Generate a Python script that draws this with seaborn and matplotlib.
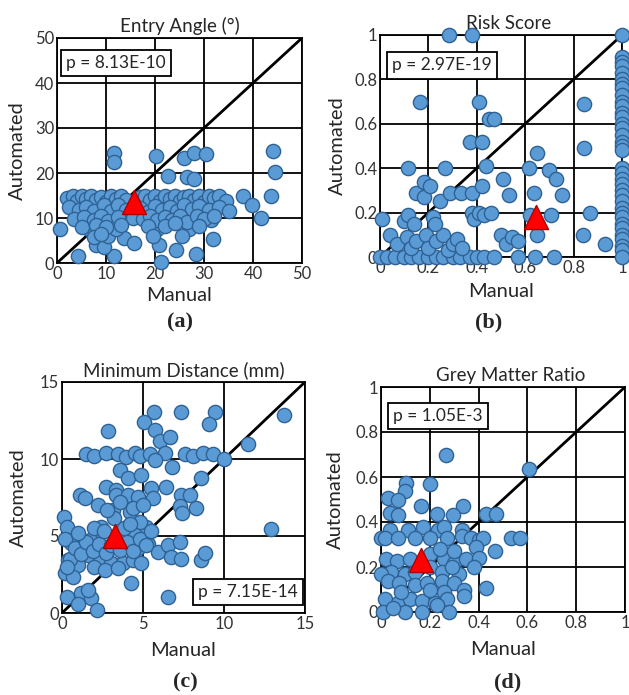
import numpy as np
import matplotlib
matplotlib.use("Agg")
import matplotlib.pyplot as plt
import seaborn as sns

# --- (a) Entry Angle ---
a_manual = [11.7, 11.6, 20.2, 26.0, 27.9, 30.4, 44.0, 44.4, 43.7, 22.6, 26.5, 27.9, 37.9, 39.7, 41.6,
            0.7, 4.2, 11.6, 21.2, 20.9, 24.3, 28.4, 31.8, 13.7, 15.8, 8.0, 9.5, 10.5, 6.5, 12.0, 20.5, 27.0, 31.5,
            2.0, 3.2, 4.0, 5.0, 6.0, 7.0, 8.0, 9.0, 10.0, 11.0, 12.0, 13.0, 14.0, 17.0, 18.0, 19.0, 20.0, 21.0,
            22.0, 23.0, 24.0, 25.0, 26.0, 27.0, 28.0, 29.0, 30.0, 31.0, 32.0, 33.0, 34.5,
            2.5, 4.5, 6.0, 7.5, 9.5, 11.0, 12.5, 14.0, 17.0, 18.5, 20.0, 21.5, 23.0, 24.5, 26.0, 27.5, 29.0,
            31.0, 33.0, 35.0,
            3.5, 5.5, 7.5, 9.0, 10.5, 12.5, 15.5, 17.5, 19.0, 20.5, 22.0, 23.5, 25.0, 26.5, 28.5, 30.0, 32.0,
            5.0, 8.0, 10.0, 13.0, 18.5, 22.0, 24.0, 29.0, 7.5, 9.0, 19.5, 25.5]
a_auto = [24.5, 22.5, 23.8, 23.3, 24.5, 24.2, 25.0, 20.3, 14.9, 19.3, 19.2, 18.6, 14.9, 12.9, 10.1,
          7.5, 1.6, 1.6, 0.3, 4.0, 3.0, 2.1, 5.3, 5.5, 4.4, 4.0, 3.5, 6.0, 7.5, 7.5, 7.5, 7.5, 9.5,
          14.5, 14.9, 13.8, 14.8, 14.2, 15.0, 14.0, 14.7, 13.5, 14.9, 14.3, 15.0, 13.9, 14.6, 15.0, 14.0, 14.8, 13.7,
          14.9, 14.2, 15.0, 13.8, 14.7, 15.0, 14.0, 14.8, 13.6, 14.9, 14.5, 15.0, 13.8,
          12.5, 11.8, 12.5, 11.5, 12.8, 11.5, 12.8, 11.8, 12.3, 11.3, 12.6, 11.8, 12.5, 11.5, 12.8, 12.0, 12.6,
          11.7, 12.5, 11.5,
          9.8, 10.2, 9.5, 10.5, 9.3, 10.3, 10.0, 9.8, 10.5, 9.5, 10.2, 9.6, 10.4, 9.2, 10.5, 9.7, 10.4,
          8.0, 8.5, 8.0, 8.5, 8.3, 8.2, 8.8, 8.2, 5.8, 6.5, 6.0, 6.0]
a_mean = (15.8, 13.6)

# --- (b) Risk Score ---
b_col = [1.0, 0.9, 0.88, 0.86, 0.83, 0.8, 0.78, 0.76, 0.73, 0.7, 0.68, 0.65, 0.63, 0.6, 0.58, 0.55, 0.52,
         0.5, 0.48, 0.4, 0.38, 0.35, 0.33, 0.3, 0.28, 0.25, 0.22, 0.2, 0.18, 0.15, 0.13, 0.1, 0.08, 0.05, 0.03, 0.0]
b_manual = [1.0] * len(b_col) + [
    0.0, 0.03, 0.06, 0.1, 0.13, 0.16, 0.2, 0.23, 0.26, 0.3, 0.33, 0.37, 0.4, 0.43, 0.47, 0.57, 0.64, 0.72,
    0.04, 0.07, 0.11, 0.13, 0.15, 0.19, 0.2, 0.23, 0.26, 0.28, 0.3, 0.32, 0.34, 0.5, 0.52, 0.545, 0.57, 0.647, 0.84, 0.93,
    0.007, 0.1, 0.117, 0.14, 0.22, 0.227, 0.38, 0.39, 0.41, 0.43, 0.46, 0.706, 0.868, 0.62,
    0.15, 0.18, 0.18, 0.206, 0.248, 0.29, 0.335, 0.38, 0.423, 0.533, 0.638, 0.753, 0.51, 0.117, 0.27, 0.44,
    0.615, 0.7, 0.727, 0.647, 0.37, 0.42, 0.45, 0.47, 0.165, 0.41, 0.845, 0.845, 0.285, 0.38]
b_auto = b_col + [
    0.0, 0.0, 0.0, 0.0, 0.0, 0.0, 0.0, 0.0, 0.0, 0.0, 0.0, 0.0, 0.0, 0.0, 0.0, 0.0, 0.0, 0.0,
    0.1, 0.06, 0.09, 0.04, 0.07, 0.1, 0.04, 0.07, 0.1, 0.03, 0.06, 0.08, 0.04, 0.1, 0.06, 0.09, 0.07, 0.1, 0.1, 0.06,
    0.17, 0.16, 0.19, 0.15, 0.18, 0.15, 0.2, 0.17, 0.2, 0.19, 0.2, 0.19, 0.2, 0.19,
    0.29, 0.27, 0.34, 0.32, 0.25, 0.29, 0.29, 0.29, 0.32, 0.28, 0.29, 0.28, 0.35, 0.4, 0.4, 0.41,
    0.4, 0.39, 0.35, 0.47, 0.52, 0.52, 0.62, 0.62, 0.7, 0.7, 0.69, 0.49, 1.0, 1.0]
b_mean = (0.645, 0.18)

# --- (c) Minimum Distance ---
c_manual = [5.68, 7.37, 9.47, 13.7, 9.1, 5.06, 5.72, 2.84, 6.03, 6.65, 11.48,
            1.5, 2.0, 2.74, 3.46, 3.97, 4.49, 4.79, 5.41, 6.34, 7.57, 8.09, 8.7, 9.3, 9.98,
            6.79, 3.56, 5.72, 8.6, 4.1, 4.9, 2.74, 3.35, 5.5, 6.44, 1.09, 1.4, 2.2, 3.35, 4.07, 4.7, 5.6,
            7.37, 7.88, 7.26, 8.3, 7.4, 3.15, 4.18, 0.12, 0.33, 5.2, 4.8, 2.43, 12.88,
            2.2, 3.87, 4.49, 0.58, 1.19, 1.7, 4.69, 5.3, 5.93, 6.54, 7.26, 6.75, 7.37, 8.6, 8.8,
            0.37, 0.99, 1.6, 2.33, 3.05, 3.77, 4.38, 4.9, 0.16, 0.68, 2.0, 2.63, 3.46, 4.28, 6.54,
            0.33, 1.19, 1.81, 2.18, 0.99, 1.6,
            0.2, 0.5, 0.8, 1.2, 1.5, 1.9, 2.3, 2.7, 3.0, 3.6, 4.0, 4.4, 4.8, 5.2, 2.0, 2.6, 3.8, 4.2, 5.5,
            1.0, 0.3, 3.2, 2.8, 3.6, 4.4, 5.0]
c_auto = [13.07, 13.03, 13.07, 12.86, 12.25, 12.4, 11.9, 11.8, 11.2, 11.45, 10.95,
          10.3, 10.2, 10.4, 10.3, 10.1, 10.4, 10.2, 10.3, 10.4, 10.3, 10.2, 10.4, 10.3, 10.0,
          9.46, 9.28, 9.93, 8.74, 8.74, 8.96, 8.2, 8.0, 8.1, 8.16, 7.66, 7.45, 7.0, 7.66, 7.66, 7.55, 7.45,
          7.66, 7.66, 6.95, 6.8, 6.47, 6.7, 6.58, 6.26, 5.6, 5.6, 5.9, 5.6, 5.43,
          5.07, 5.17, 5.07, 4.52, 4.3, 4.74, 4.2, 4.5, 3.98, 4.41, 4.63, 3.66, 3.48, 3.44, 3.87,
          3.44, 3.12, 3.77, 3.33, 3.23, 3.27, 3.44, 3.23, 2.58, 2.36, 3.0, 2.8, 2.9, 1.93, 1.02,
          1.06, 1.28, 0.95, 0.2, 0.58, 1.5,
          4.8, 3.5, 4.2, 3.8, 4.6, 4.0, 4.5, 3.9, 4.4, 4.1, 4.6, 4.0, 4.8, 4.4, 5.5, 5.3, 5.5, 5.8, 5.3,
          5.2, 3.0, 6.2, 6.7, 7.2, 6.8, 7.0]
c_mean = (3.25, 5.0)

# --- (d) Grey Matter Ratio ---
d_manual = [0.268, 0.605, 0.104, 0.098, 0.2, 0.029, 0.07, 0.165, 0.23, 0.336, 0.43, 0.47, 0.035, 0.07, 0.295,
            0.035, 0.11, 0.172, 0.234, 0.33, 0.26, 0.534, 0.568,
            0.0, 0.015, 0.07, 0.138, 0.2, 0.27, 0.33, 0.37, 0.4, 0.42, 0.39,
            0.466, 0.02, 0.065, 0.118, 0.26, 0.3, 0.35, 0.4, 0.38, 0.2, 0.24, 0.3,
            0.04, 0.1, 0.14, 0.2, 0.25, 0.32, 0.29, 0.0,
            0.03, 0.075, 0.14, 0.19, 0.25, 0.3, 0.34, 0.34, 0.43, 0.26,
            0.015, 0.07, 0.12, 0.17, 0.22, 0.27, 0.2, 0.08,
            0.01, 0.1, 0.17, 0.28, 0.23, 0.05]
d_auto = [0.70, 0.635, 0.575, 0.54, 0.57, 0.505, 0.5, 0.47, 0.435, 0.47, 0.435, 0.435, 0.44, 0.43, 0.43,
          0.364, 0.364, 0.376, 0.364, 0.364, 0.38, 0.33, 0.33,
          0.33, 0.33, 0.33, 0.33, 0.33, 0.33, 0.34, 0.33, 0.32, 0.33, 0.29,
          0.27, 0.235, 0.225, 0.235, 0.235, 0.22, 0.235, 0.24, 0.2, 0.26, 0.28, 0.27,
          0.18, 0.17, 0.18, 0.2, 0.18, 0.17, 0.2, 0.17,
          0.14, 0.13, 0.12, 0.13, 0.14, 0.13, 0.1, 0.07, 0.105, 0.09,
          0.06, 0.04, 0.06, 0.05, 0.04, 0.06, 0.1, 0.09,
          0.0, 0.0, 0.0, 0.0, 0.03, 0.02]
d_mean = (0.165, 0.23)

titles = ['Entry Angle (°)', 'Risk Score', 'Minimum Distance (mm)', 'Grey Matter Ratio']
p_texts = ['p = 8.13E-10', 'p = 2.97E-19', 'p = 7.15E-14', 'p = 1.05E-3']
letters = ['(a)', '(b)', '(c)', '(d)']

sns.set_style("white")
plt.rcParams['font.family'] = ['Lato', 'DejaVu Sans']

FACE = '#5b9bd5'
EDGE = '#2f6294'
W, H = 629, 695

fig = plt.figure(figsize=(6.29, 6.95), dpi=100)


def px_rect(left, top, right, bottom):
    return [left / W, (H - bottom) / H, (right - left) / W, (bottom - top) / H]


def draw(rect, man, auto, mean, lim, step, title, ptext, pbox, ylab_x, xlab_y, title_x):
    ax = fig.add_axes(rect)
    ax.plot([0, lim], [0, lim], color='black', lw=2, zorder=2)
    sns.scatterplot(x=man, y=auto, ax=ax, s=105, color=FACE, edgecolor=EDGE,
                    linewidth=1, clip_on=False, zorder=3)
    sns.scatterplot(x=[mean[0]], y=[mean[1]], ax=ax, marker='^', s=300, color='#ff0000',
                    edgecolor='#b00000', linewidth=1, clip_on=False, zorder=4)
    ax.set_xlim(0, lim)
    ax.set_ylim(0, lim)
    ticks = np.arange(0, lim + step / 2, step)
    labels = [f'{t:g}' for t in ticks]
    ax.set_xticks(ticks, labels)
    ax.set_yticks(ticks, labels)
    ax.tick_params(length=0, pad=2, labelsize=12, labelcolor='#333333')
    ax.grid(True, color='black', lw=1.3)
    ax.set_axisbelow(True)
    for sp in ax.spines.values():
        sp.set_color('black')
        sp.set_linewidth(1.3)
    ax.set_title(title, fontsize=13.5, x=title_x, pad=4)
    ax.set_xlabel('Manual', fontsize=14.5)
    ax.set_ylabel('Automated', fontsize=14.5)
    ax.xaxis.set_label_coords(0.5, xlab_y)
    ax.yaxis.set_label_coords(ylab_x, 0.5)
    px, py, ha = pbox
    ax.text(px, py, ptext, transform=ax.transAxes, ha=ha, va='center', fontsize=12.5, zorder=10,
            bbox=dict(boxstyle='square,pad=0.3', fc='white', ec='black', lw=1.3))
    return ax


draw(px_rect(57, 38, 302, 263), a_manual, a_auto, a_mean, 50, 10, titles[0], p_texts[0],
     (0.037, 0.889, 'left'), -0.125, -0.105, 0.5)
draw(px_rect(380, 35, 622, 257), b_manual, b_auto, b_mean, 1, 0.2, titles[1], p_texts[1],
     (0.05, 0.863, 'left'), -0.14, -0.115, 0.53)
draw(px_rect(62, 382, 305, 613), c_manual, c_auto, c_mean, 15, 5, titles[2], p_texts[2],
     (0.971, 0.091, 'right'), -0.146, -0.125, 0.5)
draw(px_rect(381, 387, 625, 612), d_manual, d_auto, d_mean, 1, 0.2, titles[3], p_texts[3],
     (0.049, 0.871, 'left'), -0.15, -0.13, 0.53)

for (x, y), lab in zip([(180, 322), (489, 322), (185, 682), (508, 682)], letters):
    fig.text(x / W, 1 - y / H, lab, ha='center', va='center', fontsize=16,
             fontweight='bold', family='Liberation Serif')

fig.savefig('out.png', dpi=100)
